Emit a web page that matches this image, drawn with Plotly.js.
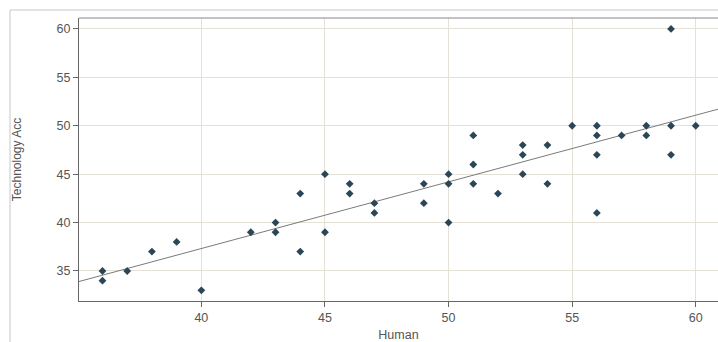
<!DOCTYPE html>
<html>
<head>
<meta charset="utf-8">
<script src="https://cdn.plot.ly/plotly-3.0.1.min.js"></script>
<style>
html,body{margin:0;padding:0;background:#fff;}
#chart{width:718px;height:342px;}
</style>
</head>
<body>
<div id="chart"></div>
<script>
const human = [36,36,37,38,39,40,42,43,43,44,44,45,45,46,46,47,47,49,49,50,50,50,51,51,51,52,53,53,53,54,54,55,56,56,56,56,57,58,58,59,59,59,60];
const techAcc = [35,34,35,37,38,33,39,40,39,43,37,45,39,44,43,42,41,44,42,45,44,40,49,46,44,43,48,47,45,48,44,50,50,49,47,41,49,50,49,60,50,47,50];
const xTicks = [40,45,50,55,60];
const yTicks = [35,40,45,50,55,60];

// least-squares fit line
const n = human.length;
const mx = human.reduce((a,b)=>a+b,0)/n;
const my = techAcc.reduce((a,b)=>a+b,0)/n;
let sxy=0, sxx=0;
for(let i=0;i<n;i++){sxy+=(human[i]-mx)*(techAcc[i]-my);sxx+=(human[i]-mx)**2;}
const slope = sxy/sxx, icpt = my - slope*mx;
const xr = [35.05, 60.9];
const fitX = xr;
const fitY = xr.map(x=>icpt+slope*x);

const font = 'Arial, "Liberation Sans", sans-serif';
const data = [
  {x: fitX, y: fitY, mode:'lines', line:{color:'#7a7a7a', width:1}, hoverinfo:'skip', showlegend:false},
  {x: human, y: techAcc, mode:'markers', type:'scatter',
   marker:{symbol:'diamond', size:6, color:'#2b4656'}, showlegend:false}
];
const layout = {
  width:718, height:342,
  margin:{l:79, r:0, t:18, b:41},
  paper_bgcolor:'#fff', plot_bgcolor:'#fff',
  font:{family:font, size:12, color:'#555'},
  xaxis:{range:xr, tickvals:xTicks, ticktext:xTicks.map(String), showgrid:true, gridcolor:'#e6e1d6', gridwidth:1,
    zeroline:false, showline:true, linecolor:'#666', linewidth:1, ticks:'outside', ticklen:5, tickcolor:'#666',
    tickfont:{size:12.5, color:'#555'},
    title:{text:'Human', font:{size:12.5, color:'#555'}, standoff:15}},
  yaxis:{range:[31.9, 61.13], tickvals:yTicks, ticktext:yTicks.map(String), showgrid:true, gridcolor:'#e6e1d6', gridwidth:1,
    zeroline:false, showline:true, linecolor:'#666', linewidth:1, ticks:'outside', ticklen:5, tickcolor:'#666',
    tickfont:{size:12.5, color:'#555'},
    title:{text:'Technology Acc', font:{size:12, color:'#555'}, standoff:32}},
  shapes:[
    {type:'line', xref:'paper', yref:'paper', x0:0, x1:1, y0:1, y1:1, line:{color:'#888', width:1}},
    {type:'line', xref:'paper', yref:'paper', x0:-69/639, x1:1, y0:1+8/283, y1:1+8/283, line:{color:'#c8c8c8', width:1}},
    {type:'line', xref:'paper', yref:'paper', x0:-69/639, x1:-69/639, y0:-41/283, y1:1+8/283, line:{color:'#c8c8c8', width:1}}
  ]
};
Plotly.newPlot('chart', data, layout, {displayModeBar:false, staticPlot:true});
</script>
</body>
</html>
